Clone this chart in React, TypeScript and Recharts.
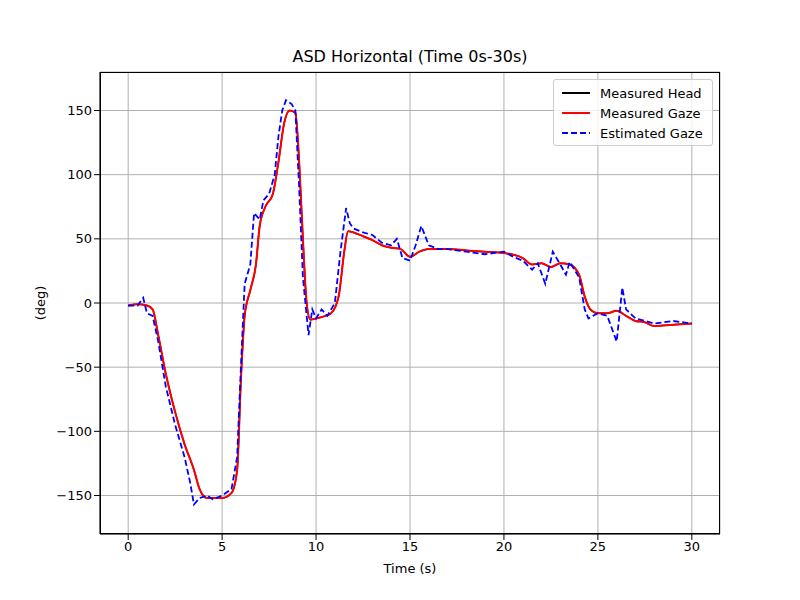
import { LineChart, Line, XAxis, YAxis, CartesianGrid } from 'recharts'

const gazeTime = [0, 0.5, 1, 1.3, 1.6, 2, 2.5, 3, 3.5, 3.8, 4.2, 5, 5.5, 5.8, 6, 6.2, 6.5, 6.8, 7, 7.3, 7.7, 8, 8.3, 8.6, 8.9, 9.1, 9.3, 9.5, 9.7, 10, 10.5, 10.8, 11.2, 11.5, 11.7, 12, 12.5, 13, 13.5, 14, 14.5, 15, 15.5, 16, 17, 18, 19, 20, 21, 21.5, 22, 22.5, 23, 23.5, 24, 24.3, 24.6, 25, 25.5, 26, 26.5, 27, 27.5, 28, 29, 30]
const gazeDeg = [-2, -1, -2, -5, -25, -55, -85, -110, -130, -145, -152, -152, -148, -130, -60, -10, 10, 30, 60, 75, 85, 110, 140, 150, 148, 110, 50, 0, -13, -12, -10, -8, 5, 40, 56, 55, 52, 49, 45, 43, 42, 36, 40, 42, 42, 41, 40, 39, 35, 30, 31, 28, 31, 30, 22, 5, -5, -8, -8, -6, -10, -14, -15, -18, -17, -16]

const estTime = [0, 0.5, 0.8, 1, 1.3, 1.6, 2, 2.5, 3, 3.3, 3.5, 3.8, 4.2, 4.5, 5, 5.5, 5.8, 6, 6.2, 6.5, 6.7, 7, 7.2, 7.5, 7.8, 8, 8.2, 8.4, 8.7, 8.9, 9.1, 9.3, 9.6, 9.8, 10, 10.3, 10.6, 11, 11.3, 11.6, 11.8, 12, 12.5, 13, 13.5, 14, 14.3, 14.6, 15, 15.3, 15.6, 16, 16.5, 17, 18, 19, 20, 20.5, 21, 21.5, 21.8, 22.2, 22.6, 23, 23.3, 23.5, 24, 24.3, 24.5, 25, 25.5, 26, 26.3, 26.5, 27, 27.5, 28, 29, 30]
const estDeg = [-2, -2, 4, -8, -10, -30, -65, -95, -120, -140, -157, -152, -150, -153, -150, -145, -120, -50, 15, 30, 70, 65, 80, 85, 100, 130, 150, 158, 155, 150, 90, 20, -25, -5, -12, -5, -10, 0, 40, 74, 62, 58, 55, 53, 47, 45, 50, 35, 33, 45, 60, 45, 42, 42, 40, 38, 40, 36, 33, 26, 31, 15, 40, 30, 22, 32, 20, -5, -12, -8, -10, -30, 12, -5, -12, -14, -16, -14, -16]

const xTicks = [0, 5, 10, 15, 20, 25, 30]
const yTicks = [-150, -100, -50, 0, 50, 100, 150]

const gaze = gazeTime.map((t, i) => ({ t, v: gazeDeg[i] }))
const est = estTime.map((t, i) => ({ t, v: estDeg[i] }))

const font = 'DejaVu Sans, sans-serif'
const tick = { fontSize: 13, fill: '#000', fontFamily: font }

export default function App() {
  return (
    <div style={{ position: 'absolute', left: 0, top: 0, width: 800, height: 600, background: '#fff', fontFamily: font }}>
      <LineChart width={800} height={600} data={gaze} margin={{ top: 72, right: 80, left: 40, bottom: 36 }}>
        <CartesianGrid stroke="#b0b0b0" />
        <XAxis type="number" dataKey="t" domain={[-1.5, 31.5]} ticks={xTicks} tick={tick} height={30}
          stroke="#000" tickLine={{ stroke: '#000' }} allowDataOverflow />
        <YAxis type="number" domain={[-180, 180]} ticks={yTicks} tick={tick} width={60}
          stroke="#000" tickLine={{ stroke: '#000' }} tickFormatter={(v: number) => (v < 0 ? `\u2212${-v}` : `${v}`)} allowDataOverflow />
        <Line data={gaze} dataKey="v" stroke="#000" strokeWidth={1.5} dot={false} isAnimationActive={false} type="monotone" />
        <Line data={gaze} dataKey="v" stroke="#ff0000" strokeWidth={2} dot={false} isAnimationActive={false} type="monotone" />
        <Line data={est} dataKey="v" stroke="#0000ff" strokeWidth={1.8} strokeDasharray="6 3" dot={false} isAnimationActive={false} type="linear" />
      </LineChart>
      <div style={{ position: 'absolute', left: 100, top: 72, width: 620, height: 462, border: '1px solid #000', boxSizing: 'border-box', pointerEvents: 'none' }} />
      <div style={{ position: 'absolute', top: 47, left: 100, width: 620, textAlign: 'center', fontSize: 16 }}>ASD Horizontal (Time 0s-30s)</div>
      <div style={{ position: 'absolute', top: 561, left: 100, width: 620, textAlign: 'center', fontSize: 13 }}>Time (s)</div>
      <div style={{ position: 'absolute', left: 40, top: 303, transform: 'translate(-50%, -50%) rotate(-90deg)', fontSize: 13 }}>(deg)</div>
      <div style={{ position: 'absolute', left: 553, top: 79, width: 160, height: 67, border: '1px solid #ccc', borderRadius: 3, background: 'rgba(255,255,255,0.8)', boxSizing: 'border-box', padding: '3px 8px', fontSize: 13 }}>
        {[['Measured Head', '#000', false], ['Measured Gaze', '#ff0000', false], ['Estimated Gaze', '#0000ff', true]].map(([name, c, dash]) => (
          <div key={name as string} style={{ display: 'flex', alignItems: 'center', height: 20 }}>
            <svg width={30} height={10} style={{ marginRight: 8 }}>
              <line x1={0} y1={5} x2={28} y2={5} stroke={c as string} strokeWidth={2} strokeDasharray={dash ? '6 3' : undefined} />
            </svg>
            {name as string}
          </div>
        ))}
      </div>
    </div>
  )
}
